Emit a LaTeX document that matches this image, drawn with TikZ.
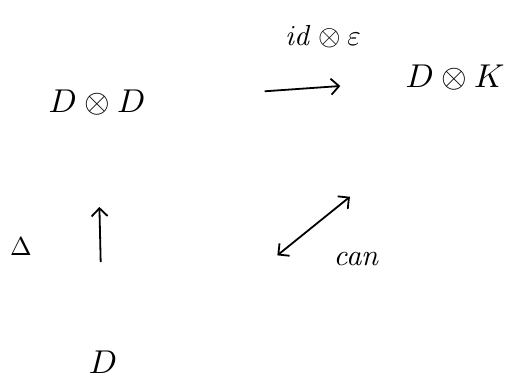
\documentclass[tikz,border=0pt]{standalone}
\usetikzlibrary{arrows.meta}
\begin{document}
\begin{tikzpicture}[x=1pt,y=-1pt,
  obj/.style={inner sep=0pt,scale=3.3},
  lab/.style={inner sep=0pt},
  map/.style={line width=1.8pt,-{Straight Barb[length=8pt,width=16pt]}},
  mapboth/.style={line width=1.8pt,{Straight Barb[length=8pt,width=16pt]}-{Straight Barb[length=8pt,width=16pt]}}]
\useasboundingbox[fill=white] (0,0) rectangle (524,391);
\node[obj] (DD) at (97,103) {$D\otimes D$};
\node[obj] (DK) at (455,78) {$D\otimes K$};
\node[obj] (D) at (103,362) {$D$};
\node[lab,scale=2.9] (ide) at (323,37) {$\mathit{id}\otimes\varepsilon$};
\node[lab,scale=2.6] (Delta) at (21,247) {$\Delta$};
\node[lab,scale=3] (can) at (357,259) {$\mathit{can}$};
\draw[map,shorten <=168pt,shorten >=115pt] (DD.center) -- (DK.center);
\draw[map,shorten <=100pt,shorten >=104pt] (D.center) -- (DD.center);
\draw[mapboth,shorten <=224pt,shorten >=135pt,transform canvas={yshift=-34pt}] (D.center) -- (DK.center);
\end{tikzpicture}
\end{document}
